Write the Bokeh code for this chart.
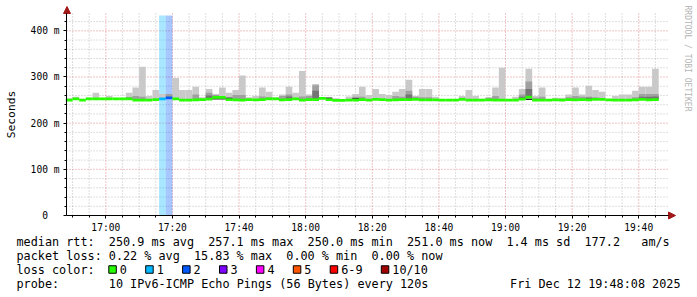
from datetime import datetime, timedelta, timezone
from math import pi

from bokeh.plotting import figure
from bokeh.models import Range1d, FixedTicker, ColumnDataSource, DatetimeTickFormatter
from bokeh.core.properties import value
from bokeh.embed import file_html
from bokeh.resources import INLINE

# ---------------- data ----------------
BIN_START = datetime(2025, 12, 12, 16, 48, 0, tzinfo=timezone.utc)
BIN_MINUTES = 2
RANGE_START = datetime(2025, 12, 12, 16, 48, 12, tzinfo=timezone.utc)
RANGE_END = datetime(2025, 12, 12, 19, 48, 56, tzinfo=timezone.utc)

# median rtt per 2-minute bin (ms)
MEDIAN = [
    250, 252.5, 250, 252.5, 252.5, 252.5, 252.5, 252.5, 252.5, 252.5,
    250, 250, 250, 251, 252.5, 255, 252.5, 250, 250, 250.5,
    251, 252, 256, 256, 251, 250.5, 250, 251, 250.5, 251,
    252.5, 252.5, 250.5, 251, 252.5, 250, 251, 251, 253.5, 251,
    249.5, 249.5, 250, 250, 251, 250, 251.5, 251, 250, 250.5,
    251, 251, 251.5, 250.5, 250.5, 250.5, 250, 250, 250, 251.5,
    250, 250, 250, 250.5, 250, 250, 250, 250, 252, 256.5,
    250, 250, 250, 250.5, 250, 251, 250.5, 251, 250.5, 251.5,
    251.5, 250.5, 250, 250, 250, 250.5, 251.5, 250.5, 251]

# highest ping per bin (ms) - outer smoke
MAX_RTT = [
    254, 257, 253, 255, 266, 255, 259, 254, 254, 266,
    277, 322, 259, 272, 263, 263, 298, 272, 272, 279,
    256, 274, 263, 277, 266, 272, 303, 256, 259, 277,
    268, 256, 262, 279, 266, 313, 262, 285, 256, 255,
    254, 252, 258, 263, 279, 261, 274, 263, 261, 268,
    274, 294, 259, 274, 274, 257, 251, 251, 251, 259,
    272, 259, 253, 256, 277, 320, 251, 257, 274, 318,
    259, 277, 251, 255, 255, 262, 277, 262, 281, 272,
    268, 251, 259, 262, 262, 270, 279, 279, 318]

# second smoke layer (ms)
MID_RTT = [
    250, 254.5, 250, 252.5, 252.5, 252.5, 252.5, 252.5, 252.5, 256,
    259, 257, 250, 251, 252.5, 263, 252.5, 250, 250, 262,
    251, 266, 261, 256, 256, 261, 261, 251, 250.5, 258,
    256, 252.5, 259, 262, 252.5, 258, 259, 282, 253.5, 251,
    249.5, 249.5, 250, 257, 257, 250, 251.5, 251, 250, 259,
    257, 270, 257, 256, 256, 250.5, 250, 250, 250, 255,
    250, 250, 250, 255, 259, 250, 250, 250, 262, 290,
    255, 257, 250, 250.5, 250, 256, 259, 257, 257, 256,
    251.5, 250.5, 250, 250, 250, 256, 263, 263, 263]

# third smoke layer (ms)
DARK_RTT = [
    250, 252.5, 250, 252.5, 252.5, 252.5, 252.5, 252.5, 252.5, 255,
    250, 250, 250, 251, 252.5, 255, 252.5, 250, 250, 250.5,
    251, 260, 256, 256, 254, 250.5, 250, 251, 250.5, 251,
    254, 252.5, 250.5, 258, 252.5, 250, 251, 270, 253.5, 251,
    249.5, 249.5, 250, 250, 251, 250, 251.5, 251, 250, 250.5,
    251, 262, 251.5, 250.5, 250.5, 250.5, 250, 250, 250, 251.5,
    250, 250, 250, 250.5, 250, 250, 250, 250, 257, 274,
    250, 250, 250, 250.5, 250, 251, 250.5, 251, 255, 251.5,
    251.5, 250.5, 250, 250, 250, 250.5, 257, 257, 258]

# innermost (near-black) smoke in a few bins
CORE_BINS = [22, 23, 24, 39, 43, 69]
CORE_LO = [251.5, 251.5, 252.5, 252.5, 251.5, 250]
CORE_HI = [254, 254, 255, 255.5, 254, 253.5]

# lost pings (of 10) per bin
LOSS_PINGS = [0] * 14 + [1, 2] + [0] * 73

LOSS_LABELS = ["0", "1", "2", "3", "4", "5", "6-9", "10/10"]
LOSS_COLORS = ["#26ff00", "#00b8ff", "#0059ff", "#7e00ff", "#ff00ff", "#ff5500", "#ff0000", "#a10000"]

X_TICK_LABELS = ["17:00", "17:20", "17:40", "18:00", "18:20", "18:40", "19:00", "19:20", "19:40"]
Y_TICKS = [0, 100, 200, 300, 400]
Y_TICK_LABELS = ["0\u00a0\u00a0", "100 m", "200 m", "300 m", "400 m"]

STATS_LINE = ["median rtt:", "250.9 ms avg", "257.1 ms max", "250.0 ms min",
              "251.0 ms now", "1.4 ms sd", "177.2", "am/s"]
LOSS_LINE = ["packet loss:", "0.22 % avg", "15.83 % max", "0.00 % min", "0.00 % now"]
PROBE_LINE = ["probe:", "10 IPv6-ICMP Echo Pings (56 Bytes) every 120s"]
DATE_TEXT = "Fri Dec 12 19:48:08 2025"
WATERMARK = "RRDTOOL / TOBI OETIKER"

# ---------------- geometry (canvas px) ----------------
W, H = 697, 297
PL, PR, PT, PB = 66, 668, 13, 215          # plot area
Y_TOP = 437.5                              # value at PT


def ms(dt):
    return dt.timestamp() * 1000.0


T0, T1 = ms(RANGE_START), ms(RANGE_END)
KX = (PR - PL) / (T1 - T0)                 # px per ms of time
KY = (PB - PT) / Y_TOP                     # px per ms of rtt


def X(cx):
    return T0 + (cx - PL) / KX


def Y(cy):
    return (PB - cy) / KY


def loss_index(n):
    if n <= 5:
        return n
    if n < 10:
        return 6
    return 7


N = len(MEDIAN)
left = [ms(BIN_START + timedelta(minutes=BIN_MINUTES * i)) for i in range(N)]
right = [ms(BIN_START + timedelta(minutes=BIN_MINUTES * (i + 1))) for i in range(N)]
line_col = [LOSS_COLORS[loss_index(n)] for n in LOSS_PINGS]

src = ColumnDataSource(dict(left=left, right=right, med=MEDIAN, hi=MAX_RTT, mid=MID_RTT,
                            dark=DARK_RTT, col=line_col,
                            mlo=[m - 3 for m in MEDIAN], mhi=[m + 3 for m in MEDIAN]))

FONT = "DejaVu Sans Mono"

p = figure(width=W, height=H, x_axis_type="datetime",
           x_range=Range1d(X(0), X(W)), y_range=Range1d(Y(H), Y(0)),
           output_backend="svg", toolbar_location=None,
           min_border_left=0, min_border_right=0, min_border_top=0, min_border_bottom=0)
p.outline_line_color = None
p.background_fill_color = "white"
p.border_fill_color = "white"
p.xgrid.visible = False
p.ygrid.visible = False

# ticks
day = RANGE_START.replace(hour=0, minute=0, second=0)
major_x = [ms(day + timedelta(hours=17, minutes=20 * k)) for k in range(len(X_TICK_LABELS))]
minor_x = []
t = day + timedelta(hours=16, minutes=50)
while t <= day + timedelta(hours=19, minutes=45):
    if ms(t) not in major_x:
        minor_x.append(ms(t))
    t += timedelta(minutes=5)
minor_y = [v for v in range(20, int(Y_TOP), 20) if v % 100 != 0]
major_y_grid = [v for v in Y_TICKS if v > 0]

p.xaxis.ticker = FixedTicker(ticks=major_x, minor_ticks=minor_x)
p.yaxis.ticker = FixedTicker(ticks=Y_TICKS, minor_ticks=minor_y)
p.xaxis.formatter = DatetimeTickFormatter(minutes="%H:%M", hourmin="%H:%M", hours="%H:%M")
p.xaxis.major_label_overrides = {v: s for v, s in zip(major_x, X_TICK_LABELS)}
p.yaxis.major_label_overrides = {v: s for v, s in zip(Y_TICKS, Y_TICK_LABELS)}
p.xaxis.fixed_location = 0
p.yaxis.fixed_location = T0
p.xaxis.bounds = (T0, T1)
p.yaxis.bounds = (0, Y_TOP)

for ax in (p.xaxis[0], p.yaxis[0]):
    ax.axis_line_color = "black"
    ax.major_tick_line_color = "black"
    ax.minor_tick_line_color = "black"
    ax.major_tick_in = 0
    ax.major_tick_out = 3
    ax.minor_tick_in = 0
    ax.minor_tick_out = 2
    ax.major_label_text_font = FONT
    ax.major_label_text_font_size = "9.6px"
    ax.major_label_text_color = "black"
p.xaxis.major_label_standoff = 3
p.yaxis.major_label_standoff = 4
p.yaxis.axis_label = "Seconds"
p.yaxis.axis_label_text_font = FONT
p.yaxis.axis_label_text_font_size = "11.3px"
p.yaxis.axis_label_text_font_style = "normal"
p.yaxis.axis_label_text_color = "black"
p.yaxis.axis_label_standoff = 10

# grid (dotted, limited to the plot area)
p.segment(x0=minor_x, y0=0, x1=minor_x, y1=Y_TOP, line_color="#8c8c8c", line_alpha=0.55,
          line_dash="1 2", line_width=1)
p.segment(x0=T0, y0=minor_y, x1=T1, y1=minor_y, line_color="#8c8c8c", line_alpha=0.55,
          line_dash="1 2", line_width=1)
p.segment(x0=major_x, y0=0, x1=major_x, y1=Y_TOP, line_color="#d23c3c", line_alpha=0.6,
          line_dash="1 2", line_width=1)
p.segment(x0=T0, y0=major_y_grid, x1=T1, y1=major_y_grid, line_color="#d23c3c", line_alpha=0.6,
          line_dash="1 2", line_width=1)

# loss backgrounds
loss_bins = [i for i, n in enumerate(LOSS_PINGS) if n > 0]
p.quad(left=[left[i] for i in loss_bins], right=[right[i] for i in loss_bins],
       bottom=0, top=Y(15),
       fill_color=[LOSS_COLORS[loss_index(LOSS_PINGS[i])] for i in loss_bins],
       fill_alpha=0.34, line_color=None)

# smoke
p.quad(left="left", right="right", bottom="med", top="hi", source=src,
       fill_color="#c9c9c9", line_color=None)
p.quad(left="left", right="right", bottom="med", top="mid", source=src,
       fill_color="#a0a0a0", line_color=None)
p.quad(left="left", right="right", bottom="med", top="dark", source=src,
       fill_color="#747474", line_color=None)
p.quad(left=[left[i] for i in CORE_BINS], right=[right[i] for i in CORE_BINS],
       bottom=CORE_LO, top=CORE_HI, fill_color="#262626", line_color=None)

# median line coloured by loss
p.quad(left="left", right="right", bottom="mlo", top="mhi", source=src,
       fill_color="col", line_color=None)

# axis arrows
ARROW = "#a01818"
p.patch(x=[X(63), X(70), X(66.5)], y=[Y(PT), Y(PT), Y(6)], fill_color=ARROW, line_color=ARROW)
p.patch(x=[X(PR), X(PR), X(PR + 7)], y=[Y(PB - 3.5), Y(PB + 3.5), Y(PB)],
        fill_color=ARROW, line_color=ARROW)

LEGEND_SIZE = "11.8px"
CW = 7.1          # monospace advance at LEGEND_SIZE
TX = 16           # legend text left edge


def col(c):
    return TX + c * CW


def put(texts, xs, cy, size=LEGEND_SIZE, color="#000000", align="left", angle=0.0):
    p.text(x=[X(c) for c in xs], y=[Y(cy)] * len(xs), text=texts,
           text_font=value(FONT), text_font_size=value(size), text_color=color,
           text_align=align, text_baseline="middle", angle=angle)


# watermark
put([WATERMARK], [687], 5, size="8px", color="#b4b4b4", angle=-pi / 2)

# legend lines (monospace columns)
put(STATS_LINE, [col(c) for c in (0, 13, 27, 41, 55, 69, 80, 88)], 241)
put(LOSS_LINE, [col(c) for c in (0, 13, 25, 38, 50)], 255)
put(["loss color:"], [TX], 269)
bx = col(13)
box_l, box_r, txt_x = [], [], []
for lab in LOSS_LABELS:
    box_l.append(X(bx))
    box_r.append(X(bx + 7.5))
    txt_x.append(bx + 11)
    bx = bx + 11 + len(lab) * CW + 18.8
p.quad(left=box_l, right=box_r, bottom=Y(272.75), top=Y(265.25),
       fill_color=LOSS_COLORS, line_color="black", line_width=1)
put(LOSS_LABELS, txt_x, 269)
put(PROBE_LINE, [col(0), col(13)], 283)
put([DATE_TEXT], [680], 283, align="right")

open("out.html", "w").write(file_html(p, INLINE))
